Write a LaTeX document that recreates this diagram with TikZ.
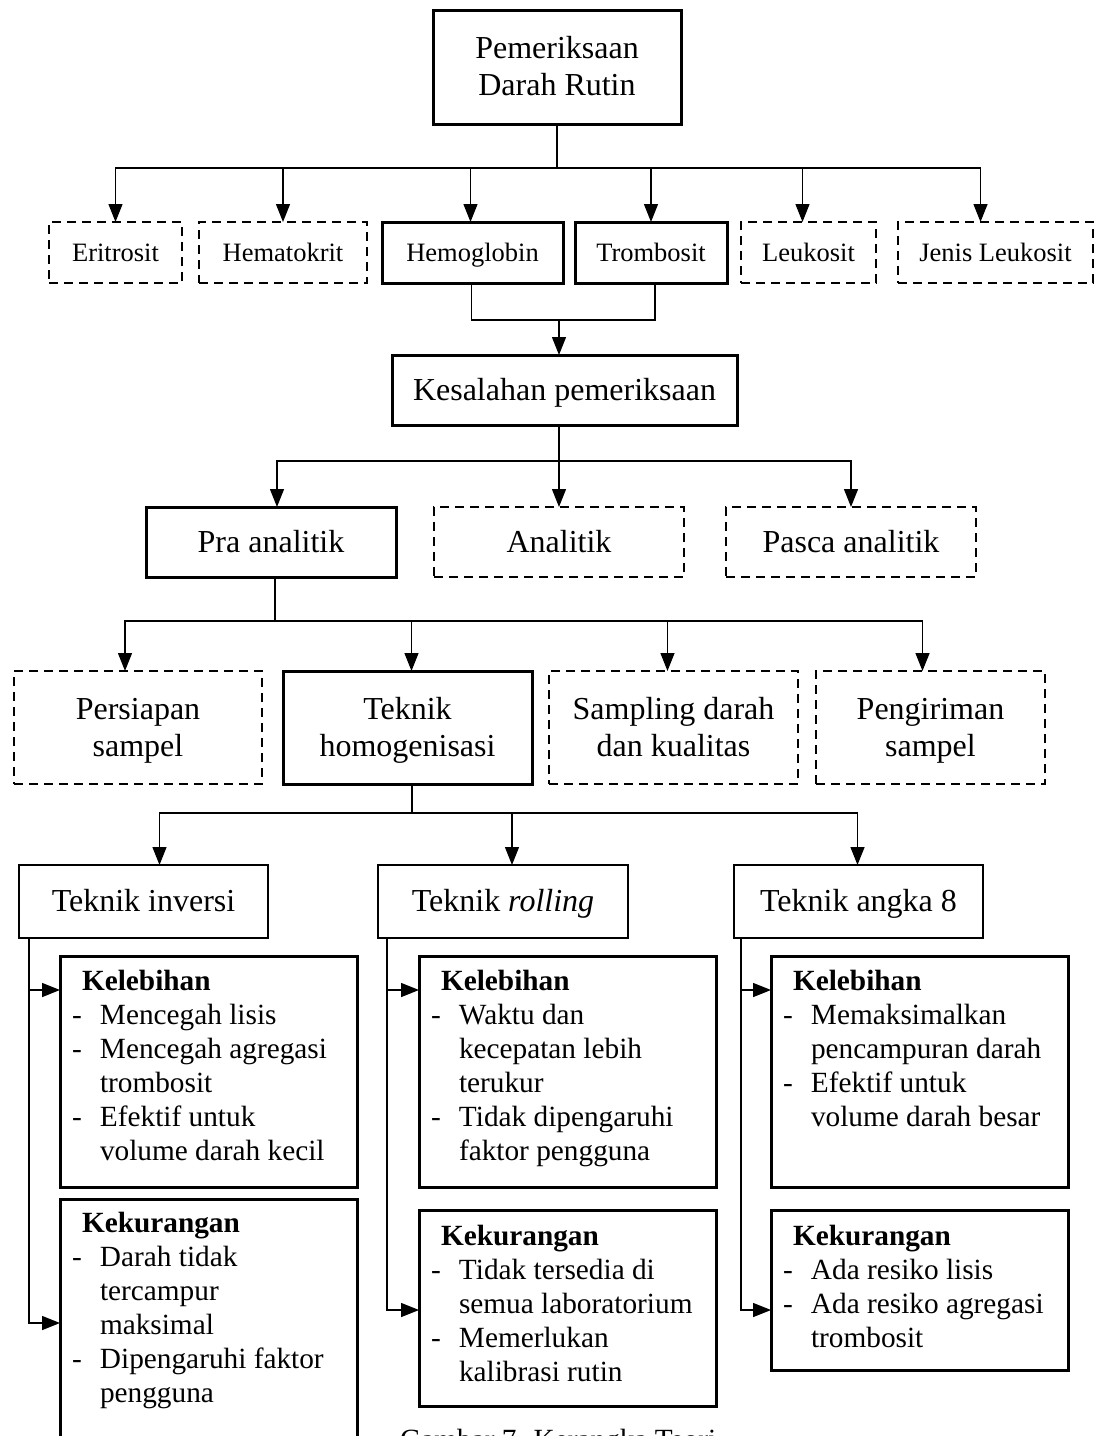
\documentclass[tikz,border=0pt]{standalone}
\usepackage{fontspec}
\setmainfont{Liberation Serif}
\usetikzlibrary{arrows.meta}
\newcommand{\fBig}{\fontsize{32}{37}\selectfont}
\newcommand{\fSmall}{\fontsize{26.5}{30}\selectfont}
\newcommand{\fList}{\fontsize{29.3}{34}\selectfont}
\newcommand{\tallstrut}{\rule{0pt}{\dimexpr0.7\baselineskip+6pt\relax}}
\newcommand{\deepstrut}{\rule[-\dimexpr0.3\baselineskip\relax]{0pt}{1pt}}
\begin{document}
\begin{tikzpicture}[x=1pt,y=-1pt,
  bx/.style={draw, rectangle, inner sep=0pt, outer sep=0pt, line width=3pt, anchor=north west, align=center, font=\fBig,
    execute at begin node=\tallstrut, execute at end node=\strut},
  dbx/.style={bx, line width=2.8pt, dash pattern=on 9pt off 6pt},
  sbx/.style={bx, font=\fSmall, execute at begin node=\strut},
  sdbx/.style={dbx, font=\fSmall, execute at begin node=\strut},
  tbx/.style={bx, line width=2.6pt},
  lbx/.style={draw, rectangle, inner sep=0pt, outer sep=0pt, line width=3pt, anchor=north west},
  lst/.style={anchor=north west, inner sep=0pt, outer sep=0pt, font=\fList},
  ln/.style={line width=1.4pt},
  arr/.style={line width=1.4pt, -{Triangle[length=18pt,width=14pt]}}
]
\useasboundingbox (0,0) rectangle (1095,1436);

% top
\node[bx, minimum width=248pt, minimum height=114pt] (top) at (433,10) {\tallstrut Pemeriksaan\\Darah Rutin\deepstrut};

% row 1
\node[sdbx, minimum width=133pt, minimum height=61pt] (eri) at (49,222) {Eritrosit};
\node[sdbx, minimum width=168pt, minimum height=61pt] (hem) at (199,222) {Hematokrit};
\node[sbx, minimum width=181pt, minimum height=61pt] (hb) at (382,222) {Hemoglobin};
\node[sbx, minimum width=152pt, minimum height=61pt] (tb) at (575,222) {Trombosit};
\node[sdbx, minimum width=135pt, minimum height=61pt] (leu) at (741,222) {Leukosit};
\node[sdbx, minimum width=195pt, minimum height=61pt] (jl) at (898,222) {Jenis Leukosit};

% kesalahan
\node[bx, minimum width=345pt, minimum height=70pt] (kes) at (392,355) {Kesalahan pemeriksaan};

% row 2
\node[bx, minimum width=250pt, minimum height=70pt] (pra) at (146,507) {Pra analitik};
\node[dbx, minimum width=250pt, minimum height=70pt] (ana) at (434,507) {Analitik};
\node[dbx, minimum width=250pt, minimum height=70pt] (pas) at (726,507) {Pasca analitik};

% row 3
\node[dbx, minimum width=248pt, minimum height=113pt] (per) at (14,671) {\tallstrut Persiapan\\sampel\deepstrut};
\node[bx, minimum width=249pt, minimum height=113pt] (hom) at (283,671) {\tallstrut Teknik\\homogenisasi\deepstrut};
\node[dbx, minimum width=249pt, minimum height=113pt] (sam) at (549,671) {\tallstrut Sampling darah\\dan kualitas\deepstrut};
\node[dbx, minimum width=229pt, minimum height=113pt] (pen) at (816,671) {\tallstrut Pengiriman\\sampel\deepstrut};

% row 4
\node[tbx, minimum width=249pt, minimum height=73pt] (inv) at (19,865) {Teknik inversi};
\node[tbx, minimum width=250pt, minimum height=73pt] (rol) at (378,865) {Teknik \textit{rolling}};
\node[tbx, minimum width=249pt, minimum height=73pt] (ang) at (734,865) {Teknik angka 8};

% list boxes
\node[lbx, minimum width=297pt, minimum height=231pt] (kelI) at (60,956) {};
\node[lbx, minimum width=297pt, minimum height=281pt] (kurI) at (60,1199) {};
\node[lbx, minimum width=297pt, minimum height=196pt] (kurR) at (419,1210) {};
\node[lbx, minimum width=297pt, minimum height=231pt] (kelR) at (419,956) {};
\node[lbx, minimum width=297pt, minimum height=231pt] (kelA) at (771,956) {};
\node[lbx, minimum width=297pt, minimum height=160pt] (kurA) at (771,1210) {};

\node[lst] (kelIt) at ([xshift=12pt,yshift=-11pt]kelI.north west) {%
\begin{tabular}{@{}p{28pt}@{}l@{}}
\multicolumn{2}{@{\hspace{10pt}}l@{}}{\textbf{Kelebihan}}\\
- & Mencegah lisis\\
- & Mencegah agregasi\\
  & trombosit\\
- & Efektif untuk\\
  & volume darah kecil
\end{tabular}};
\node[lst] (kurIt) at ([xshift=12pt,yshift=-10pt]kurI.north west) {%
\begin{tabular}{@{}p{28pt}@{}l@{}}
\multicolumn{2}{@{\hspace{10pt}}l@{}}{\textbf{Kekurangan}}\\
- & Darah tidak\\
  & tercampur\\
  & maksimal\\
- & Dipengaruhi faktor\\
  & pengguna
\end{tabular}};
\node[lst] (kelRt) at ([xshift=12pt,yshift=-11pt]kelR.north west) {%
\begin{tabular}{@{}p{28pt}@{}l@{}}
\multicolumn{2}{@{\hspace{10pt}}l@{}}{\textbf{Kelebihan}}\\
- & Waktu dan\\
  & kecepatan lebih\\
  & terukur\\
- & Tidak dipengaruhi\\
  & faktor pengguna
\end{tabular}};
\node[lst] (kurRt) at ([xshift=12pt,yshift=-12pt]kurR.north west) {%
\begin{tabular}{@{}p{28pt}@{}l@{}}
\multicolumn{2}{@{\hspace{10pt}}l@{}}{\textbf{Kekurangan}}\\
- & Tidak tersedia di\\
  & semua laboratorium\\
- & Memerlukan\\
  & kalibrasi rutin
\end{tabular}};
\node[lst] (kelAt) at ([xshift=12pt,yshift=-11pt]kelA.north west) {%
\begin{tabular}{@{}p{28pt}@{}l@{}}
\multicolumn{2}{@{\hspace{10pt}}l@{}}{\textbf{Kelebihan}}\\
- & Memaksimalkan\\
  & pencampuran darah\\
- & Efektif untuk\\
  & volume darah besar
\end{tabular}};
\node[lst] (kurAt) at ([xshift=12pt,yshift=-12pt]kurA.north west) {%
\begin{tabular}{@{}p{28pt}@{}l@{}}
\multicolumn{2}{@{\hspace{10pt}}l@{}}{\textbf{Kekurangan}}\\
- & Ada resiko lisis\\
- & Ada resiko agregasi\\
  & trombosit
\end{tabular}};

% caption (cut off by the page edge, as in the reference)
\node[anchor=base west, inner sep=0pt, font=\fList] (cap) at (400,1449) {Gambar 7. Kerangka Teori};

% connectors: top -> row 1
\coordinate (b1) at (557,168);
\draw[ln] (top.south) -- (b1);
\draw[arr] (b1) -| (eri.north);
\draw[arr] (b1) -| (hem.north);
\draw[arr] (b1) -| ([xshift=-2pt]hb.north);
\draw[arr] (b1) -| (tb.north);
\draw[arr] (b1) -| ([xshift=-6pt]leu.north);
\draw[arr] (b1) -| ([xshift=-15pt]jl.north);

% hemoglobin + trombosit -> kesalahan
\coordinate (j1) at (559,320);
\draw[ln] ([xshift=-1pt]hb.south) |- (j1);
\draw[ln] ([xshift=4pt]tb.south) |- (j1);
\draw[arr] (j1) -- (j1 |- kes.north);

% kesalahan -> row 2
\coordinate (b2) at (559,461);
\draw[ln] (b2 |- kes.south) -- (b2);
\draw[arr] (b2) -| ([xshift=6pt]pra.north);
\draw[arr] (b2) -| (ana.north);
\draw[arr] (b2) -| (pas.north);

% pra analitik -> row 3
\coordinate (b3) at (275,621);
\draw[ln] (b3 |- pra.south) -- (b3);
\draw[arr] (b3) -| ([xshift=-13pt]per.north);
\draw[arr] (b3) -| ([xshift=4pt]hom.north);
\draw[arr] (b3) -| ([xshift=-6pt]sam.north);
\draw[arr] (b3) -| ([xshift=-8pt]pen.north);

% teknik homogenisasi -> row 4
\coordinate (b4) at (412,813);
\draw[ln] (b4 |- hom.south) -- (b4);
\draw[arr] (b4) -| ([xshift=16pt]inv.north);
\draw[arr] (b4) -| ([xshift=9pt]rol.north);
\draw[arr] (b4) -| ([xshift=-1pt]ang.north);

% row 4 -> list boxes
\draw[arr] ([xshift=10pt]inv.south west) |- ([yshift=-34pt]kelI.north west);
\draw[arr] ([xshift=10pt]inv.south west) |- ([yshift=-124pt]kurI.north west);
\draw[arr] ([xshift=9pt]rol.south west) |- ([yshift=-34pt]kelR.north west);
\draw[arr] ([xshift=9pt]rol.south west) |- ([yshift=-100pt]kurR.north west);
\draw[arr] ([xshift=7pt]ang.south west) |- ([yshift=-34pt]kelA.north west);
\draw[arr] ([xshift=7pt]ang.south west) |- ([yshift=-100pt]kurA.north west);
\end{tikzpicture}
\end{document}
